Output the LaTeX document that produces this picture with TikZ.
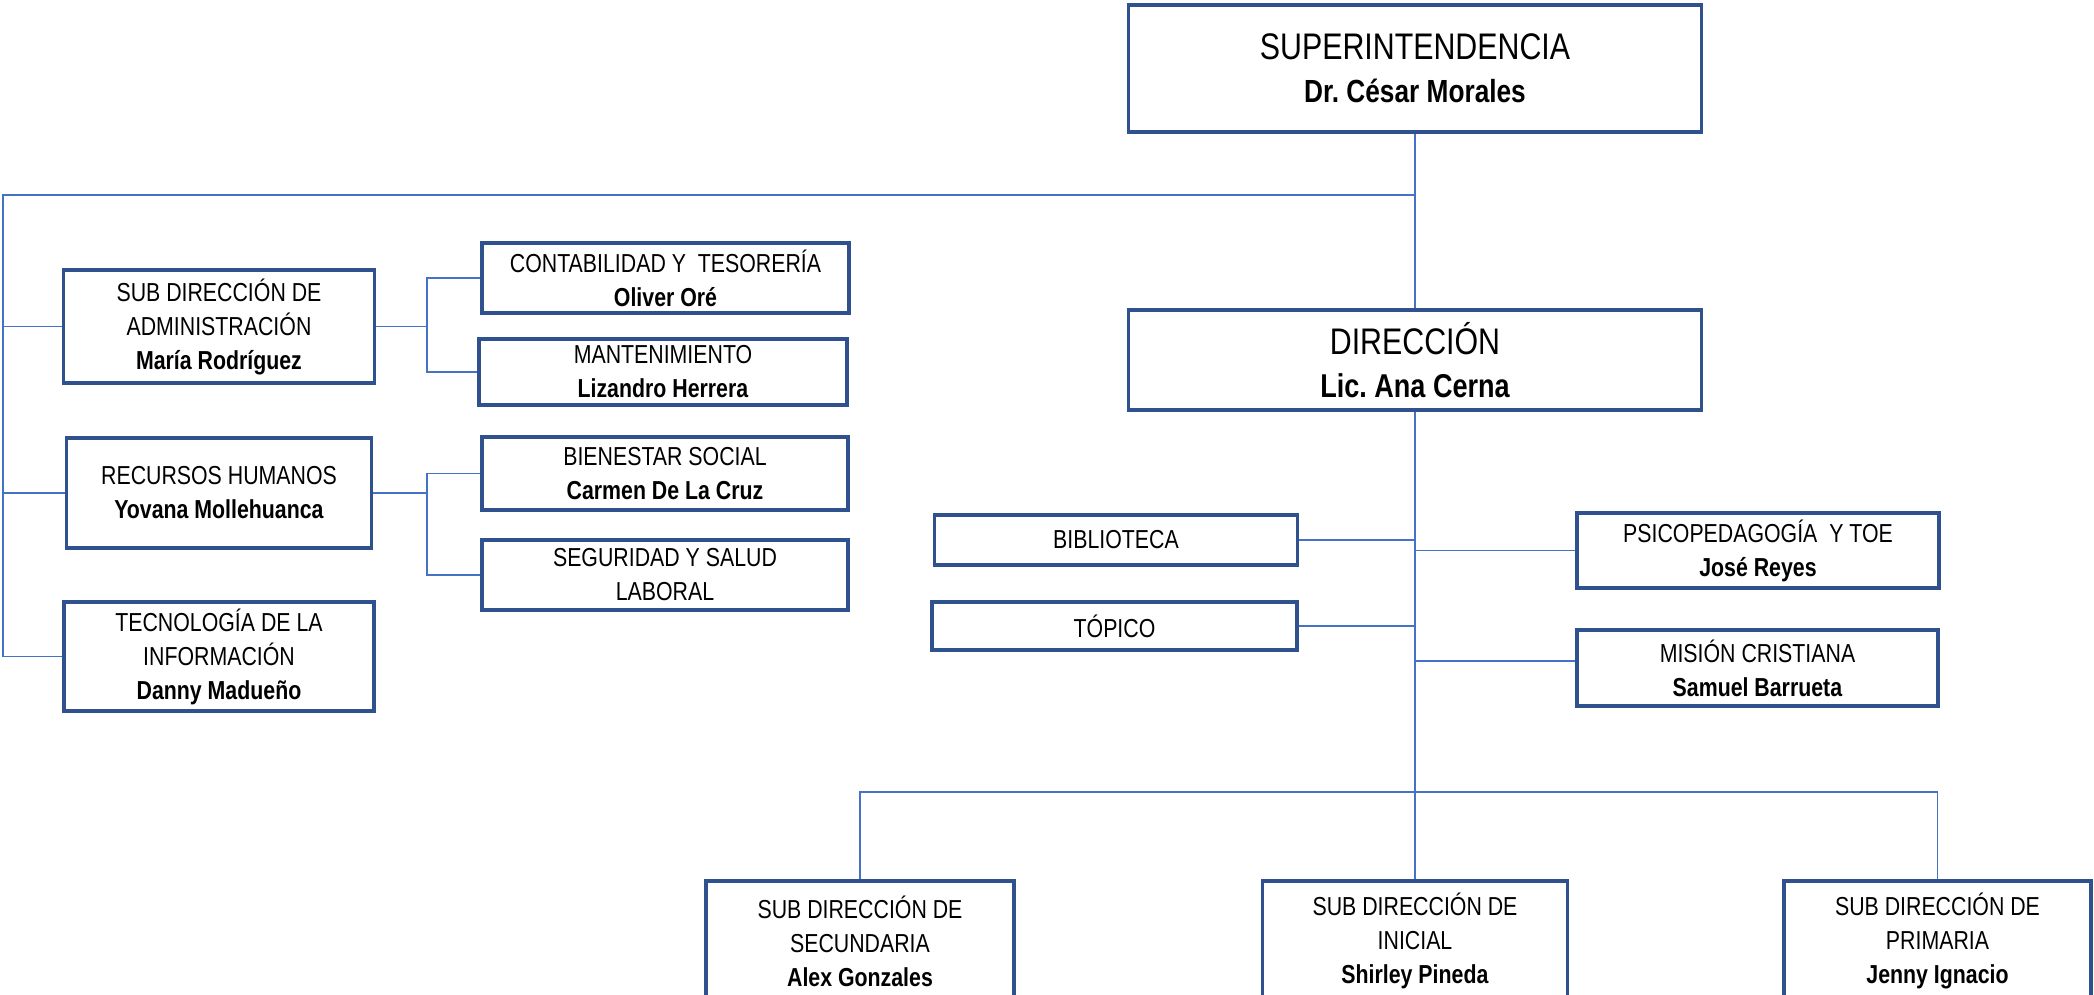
\documentclass[tikz,border=0pt]{standalone}
\usepackage{fontspec}
\setmainfont{Liberation Sans}[FakeStretch=0.82]
\frenchspacing
\definecolor{boxblue}{RGB}{47,82,143}
\definecolor{lineblue}{RGB}{68,114,196}
\tikzset{
  unit/.style={draw=boxblue, line width=3.4pt, fill=white, align=center, inner sep=0pt,
    font=\fontsize{26}{34}\selectfont},
  chief/.style={unit, minimum width=573pt, font=\fontsize{37}{43}\selectfont},
  link/.style={draw=lineblue, line width=1.6pt},
}
\newcommand{\who}[1]{\textbf{#1}}
\begin{document}
\begin{tikzpicture}[x=1pt,y=-1pt]
\useasboundingbox (0,0) rectangle (2094,995);
\fill[white] (0,0) rectangle (2094,995);

% top
\node[chief, minimum height=127pt] (super) at (1415,68.5)
  {SUPERINTENDENCIA\\{\fontsize{32}{43}\selectfont\bfseries Dr. César Morales}};
\node[chief, minimum height=100pt] (dir) at (1415,360)
  {DIRECCIÓN\\{\fontsize{33}{38}\selectfont\bfseries Lic. Ana Cerna}};

% left column
\node[unit, minimum width=311pt, minimum height=113pt] (admin) at (219,326.5)
  {SUB DIRECCIÓN DE\\ADMINISTRACIÓN\\\who{María Rodríguez}};
\node[unit, minimum width=305pt, minimum height=110pt] (rrhh) at (219,493)
  {RECURSOS HUMANOS\\\who{Yovana Mollehuanca}};
\node[unit, minimum width=310pt, minimum height=109pt] (tec) at (219,656.5)
  {TECNOLOGÍA DE LA\\INFORMACIÓN\\\who{Danny Madueño}};

\node[unit, minimum width=367pt, minimum height=70pt] (cont) at (665.5,278)
  {CONTABILIDAD Y\ \ TESORERÍA\\\who{Oliver Oré}};
\node[unit, minimum width=368pt, minimum height=66pt] (mant) at (663,372)
  {MANTENIMIENTO\\\who{Lizandro Herrera}};
\node[unit, minimum width=366pt, minimum height=73pt] (bien) at (665,473.5)
  {BIENESTAR SOCIAL\\\who{Carmen De La Cruz}};
\node[unit, minimum width=366pt, minimum height=70pt] (segu) at (665,575)
  {SEGURIDAD Y SALUD\\LABORAL};

% staff of the direction
\node[unit, minimum width=363pt, minimum height=50pt] (bibl) at (1116,540) {BIBLIOTECA};
\node[unit, minimum width=365pt, minimum height=48pt] (topi) at (1114.5,626) {TÓPICO};
\node[unit, minimum width=362pt, minimum height=75pt] (psico) at (1758,550.5)
  {PSICOPEDAGOGÍA\ \ Y TOE\\\who{José Reyes}};
\node[unit, minimum width=361pt, minimum height=76pt] (mision) at (1757.5,668)
  {MISIÓN CRISTIANA\\\who{Samuel Barrueta}};

% levels
\node[unit, minimum width=308pt, minimum height=120pt] (secu) at (860,941)
  {SUB DIRECCIÓN DE\\SECUNDARIA\\\who{Alex Gonzales}};
\node[unit, minimum width=305pt, minimum height=120pt] (inic) at (1415,941)
  {SUB DIRECCIÓN DE\\INICIAL\\\who{Shirley Pineda}};
\node[unit, minimum width=307pt, minimum height=120pt] (prim) at (1937.5,941)
  {SUB DIRECCIÓN DE\\PRIMARIA\\\who{Jenny Ignacio}};

\coordinate (top) at (1415,195);
\coordinate (lefttop) at (3,195);
\coordinate (ajoin) at (427,326.5);
\coordinate (rjoin) at (427,493);
\coordinate (bus) at (1415,792);

\draw[link] (super.south) -- (dir.north);
\draw[link] (top) -- (lefttop) |- (tec.west);
\draw[link] (lefttop |- admin.west) -- (admin.west);
\draw[link] (lefttop |- rrhh.west) -- (rrhh.west);

\draw[link] (admin.east) -- (ajoin);
\draw[link] (cont.west) -| (ajoin) |- (mant.west);
\draw[link] (rrhh.east) -- (rjoin);
\draw[link] (bien.west) -| (rjoin) |- (segu.west);

\draw[link] (dir.south) -- (inic.north);
\draw[link] (bibl.east) -- (bibl.east -| dir.south);
\draw[link] (topi.east) -- (topi.east -| dir.south);
\draw[link] (psico.west) -- (psico.west -| dir.south);
\draw[link] ([yshift=7pt]mision.west) -- ([yshift=7pt]mision.west -| dir.south);
\draw[link] (secu.north) |- (bus) -| (prim.north);
\end{tikzpicture}
\end{document}
